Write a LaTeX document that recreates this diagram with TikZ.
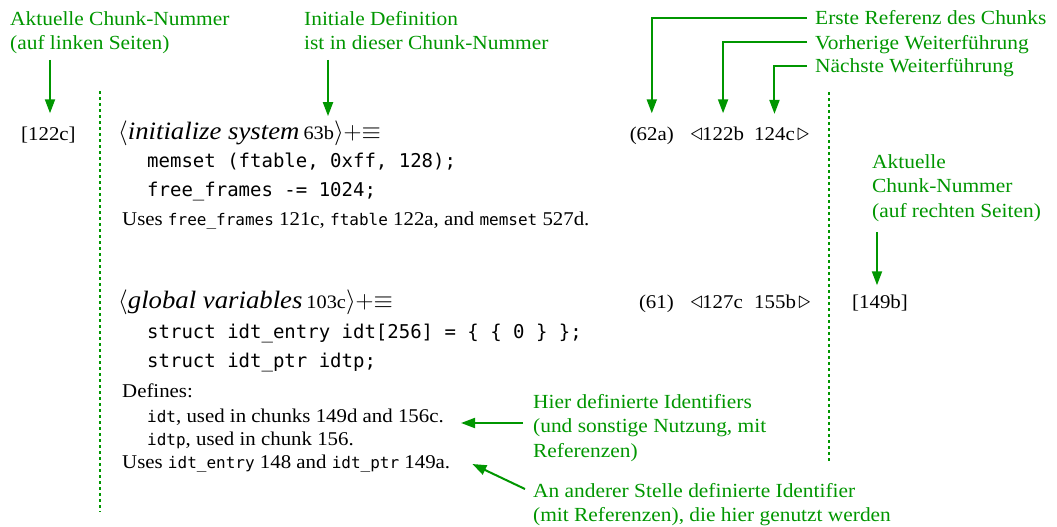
\documentclass[tikz,border=0pt]{standalone}
\usepackage{fontspec}
\setmainfont{Liberation Serif}[FakeStretch=1.07]
\setmonofont{DejaVu Sans Mono}
\usetikzlibrary{arrows.meta}
\definecolor{anngreen}{RGB}{0,150,0}
\newcommand\annfont{\fontsize{20}{24.5}\selectfont}
\newcommand\bodyfont{\fontsize{19.5}{24}\selectfont}
\newcommand\headfont{\fontsize{25}{28}\selectfont}
\newcommand\codefont{\fontsize{19}{29}\selectfont\ttfamily}
\newcommand\smallfont{\fontsize{19.5}{23}\selectfont}
\newcommand\smtt[1]{{\fontsize{16}{23}\selectfont\ttfamily #1}}
\newcommand\refnum[1]{{\fontsize{19}{20}\selectfont\upshape #1}}
\tikzset{
  ann/.style={text=anngreen, font=\annfont, inner sep=0pt, align=left},
  txt/.style={inner sep=0pt, font=\bodyfont, anchor=base west},
  tri/.style={inner sep=0pt, font=\fontsize{23}{24}\selectfont},
  head/.style={inner sep=0pt, font=\headfont, anchor=base west},
  code/.style={inner sep=0pt, font=\codefont, anchor=base west},
  small/.style={inner sep=0pt, font=\smallfont, anchor=base west},
  arr/.style={draw=anngreen, line width=2pt, -{Triangle[width=10pt,length=14pt]}},
  sepline/.style={draw=anngreen, line width=2.4pt, dash pattern=on 3pt off 3pt},
}
\begin{document}
\begin{tikzpicture}[x=1pt,y=-1pt]
\useasboundingbox (0,0) rectangle (1057,527);
% separators
\coordinate (sl1) at (100,91);
\coordinate (sl2) at (100,512);
\coordinate (sr1) at (829,92);
\coordinate (sr2) at (829,463);
\draw[sepline] (sl1) -- (sl2);
\draw[sepline] (sr1) -- (sr2);
% annotations
\node[ann, anchor=north west] (a1) at (10,11) {Aktuelle Chunk-Nummer\\(auf linken Seiten)};
\node[ann, anchor=north west] (a2) at (304,11) {Initiale Definition\\ist in dieser Chunk-Nummer};
\node[ann, anchor=base west] (a3) at (815,25) {Erste Referenz des Chunks};
\node[ann, anchor=base west] (a4) at (815,49) {Vorherige Weiterführung};
\node[ann, anchor=base west] (a5) at (815,73) {Nächste Weiterführung};
\node[ann, anchor=north west] (a6) at (872,154) {Aktuelle\\Chunk-Nummer\\(auf rechten Seiten)};
\node[ann, anchor=north west] (a7) at (533,394) {Hier definierte Identifiers\\(und sonstige Nutzung, mit\\Referenzen)};
\node[ann, anchor=north west] (a8) at (533,483) {An anderer Stelle definierte Identifier\\(mit Referenzen), die hier genutzt werden};
% chunk 1
\node[txt] (b1) at (21,140) {[122c]};
\node[head] (h1) at (118,139) {$\langle$\textit{initialize system}\hspace{4pt}\refnum{63b}$\rangle{+}{\equiv}$};
\node[txt, anchor=base east] (r1) at (674,140) {(62a)};
\node[txt] (p1) at (702,140) {122b};
\node[tri, anchor=base east] (tl1) at ([xshift=1pt]p1.base west) {$\triangleleft$};
\node[txt] (n1) at (754,140) {124c};
\node[tri, anchor=base west] (tr1) at ([xshift=2pt]n1.base east) {$\triangleright$};
\node[code] (c1) at (147,167) {memset (ftable, 0xff, 128);};
\node[code] (c2) at (147,196) {free\_frames -= 1024;};
\node[small] (u1) at (122,225) {Uses \smtt{free\_frames} 121c, \smtt{ftable} 122a, and \smtt{memset} 527d.};
% chunk 2
\node[txt] (b2) at (852,308) {[149b]};
\node[head] (h2) at (118,308) {$\langle$\textit{global variables}\hspace{4pt}\refnum{103c}$\rangle{+}{\equiv}$};
\node[txt, anchor=base east] (r2) at (674,308) {(61)};
\node[txt] (p2) at (702,308) {127c};
\node[tri, anchor=base east] (tl2) at ([xshift=1pt]p2.base west) {$\triangleleft$};
\node[txt] (n2) at (754,308) {155b};
\node[tri, anchor=base west] (tr2) at ([xshift=2pt]n2.base east) {$\triangleright$};
\node[code] (c3) at (147,338) {struct idt\_entry idt[256] = \{ \{ 0 \} \};};
\node[code] (c4) at (147,367) {struct idt\_ptr idtp;};
\node[small] (d0) at (122,397) {Defines:};
\node[small] (d1) at (147,422) {\smtt{idt}, used in chunks 149d and 156c.};
\node[small] (d2) at (147,445) {\smtt{idtp}, used in chunk 156.};
\node[small] (u2) at (122,468) {Uses \smtt{idt\_entry} 148 and \smtt{idt\_ptr} 149a.};
% arrows
\coordinate (a1s) at (50,60);
\draw[arr, shorten >=13pt] (a1s) -- (a1s |- b1.north);
\coordinate (a2s) at (328,60);
\draw[arr, shorten >=4pt] (a2s) -- (a2s |- h1.north);
\draw[arr, shorten >=13pt] ([xshift=-8pt,yshift=7pt]a3.base west) -| (r1.north);
\draw[arr, shorten >=13pt] ([xshift=-8pt,yshift=7pt]a4.base west) -| (p1.north);
\draw[arr, shorten >=13pt] ([xshift=-8pt,yshift=7pt]a5.base west) -| (n1.north);
\coordinate (a6s) at (877,232);
\draw[arr, shorten >=9pt] (a6s) -- (a6s |- b2.north);
\coordinate (a7s) at (523,423);
\draw[arr, shorten >=17pt] (a7s) -- (a7s -| d1.east);
\coordinate (a8s) at (525,489);
\draw[arr] (a8s) -- ([xshift=22pt,yshift=4pt]u2.base east);
\end{tikzpicture}
\end{document}
